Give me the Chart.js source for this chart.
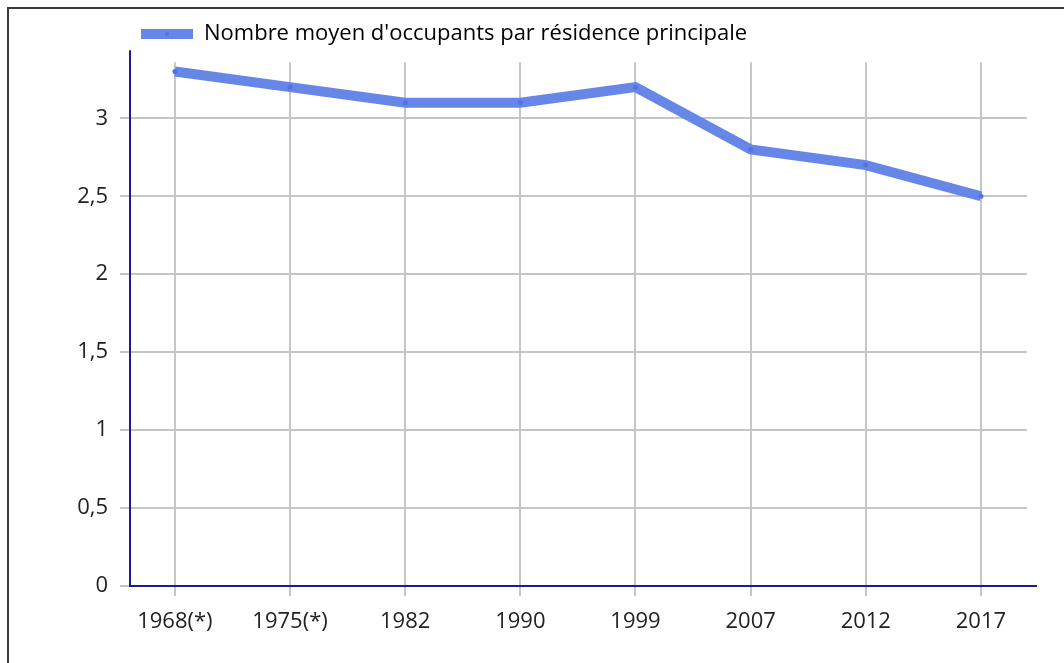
<!DOCTYPE html>
<html>
<head>
<meta charset="utf-8">
<script src="https://cdn.jsdelivr.net/npm/chart.js@4"></script>
<style>
  html, body { margin: 0; padding: 0; background: #fff; }
  #wrap { position: relative; width: 1064px; height: 663px; overflow: hidden; }
  #frame { position: absolute; left: 7px; top: 7px; width: 1100px; height: 700px;
           border-top: 2px solid #3a3a3a; border-left: 2px solid #3a3a3a; }
  #chartBox { position: absolute; left: 0; top: 0; width: 1064px; height: 663px; }
</style>
</head>
<body>
<div id="wrap">
  <div id="frame"></div>
  <div id="chartBox"><canvas id="occChart"></canvas></div>
</div>
<script>
// Data
const years = ['1968(*)', '1975(*)', '1982', '1990', '1999', '2007', '2012', '2017'];
const occupants = [3.3, 3.2, 3.1, 3.1, 3.2, 2.8, 2.7, 2.5];
const yTicks = [0, 0.5, 1, 1.5, 2, 2.5, 3];
const seriesLabel = "Nombre moyen d'occupants par résidence principale";

const lineColor = '#6787e8';
const axisColor = '#1b1b98';
const gridColor = '#c6c6c6';

// Navy axis lines stick out past the grid, draw them by hand
const axisLines = {
    id: 'axisLines',
    afterDraw(chart) {
        const ctx = chart.ctx;
        const area = chart.chartArea;
        ctx.save();
        ctx.strokeStyle = axisColor;
        ctx.lineWidth = 2;
        ctx.beginPath();
        ctx.moveTo(area.left, area.top - 12);
        ctx.lineTo(area.left, area.bottom);
        ctx.lineTo(area.right + 10, area.bottom);
        ctx.stroke();

        // little dot in the legend swatch
        const box = chart.legend.legendHitBoxes[0];
        if (box) {
            ctx.fillStyle = '#4f72e4';
            ctx.beginPath();
            ctx.arc(box.left + 26, box.top + box.height / 2, 2, 0, Math.PI * 2);
            ctx.fill();
        }
        ctx.restore();
    }
};

const ctx = document.getElementById('occChart').getContext('2d');
new Chart(ctx, {
    type: 'line',
    data: {
        datasets: [{
            label: seriesLabel,
            data: occupants.map((v, i) => ({ x: i, y: v })),
            borderColor: lineColor,
            backgroundColor: lineColor,
            borderWidth: 10,
            pointRadius: 2.5,
            pointBorderWidth: 0,
            pointBackgroundColor: '#4f72e4',
            tension: 0
        }]
    },
    options: {
        responsive: true,
        maintainAspectRatio: false,
        animation: false,
        layout: {
            padding: { left: 40, right: 37, top: 12, bottom: 0 }
        },
        plugins: {
            legend: {
                align: 'start',
                fullSize: false,
                weight: 3000,
                labels: {
                    font: { family: 'Open Sans', size: 22 },
                    color: '#222',
                    boxWidth: 52,
                    boxHeight: 10,
                    padding: 11,
                    generateLabels(chart) {
                        return [{
                            text: seriesLabel,
                            fillStyle: lineColor,
                            strokeStyle: lineColor,
                            lineWidth: 0,
                            datasetIndex: 0
                        }];
                    }
                }
            },
            // empty subtitle used as a spacer under the legend
            subtitle: {
                display: true,
                text: '',
                font: { size: 6 },
                padding: 0
            },
            tooltip: { enabled: false }
        },
        scales: {
            x: {
                type: 'linear',
                min: -0.39,
                max: 7.4,
                afterBuildTicks(scale) {
                    scale.ticks = years.map((y, i) => ({ value: i }));
                },
                afterFit(scale) {
                    scale.height = 77;
                },
                border: { display: false },
                grid: {
                    color: gridColor,
                    lineWidth: 2,
                    tickLength: 10
                },
                ticks: {
                    font: { family: 'Open Sans', size: 22 },
                    color: '#222',
                    padding: 13,
                    maxRotation: 0,
                    callback: v => years[v]
                }
            },
            y: {
                min: 0,
                max: 3.36,
                afterBuildTicks(scale) {
                    scale.ticks = yTicks.map(v => ({ value: v }));
                },
                afterFit(scale) {
                    scale.width = 90;
                },
                border: { display: false },
                grid: {
                    color: gridColor,
                    lineWidth: 2,
                    tickLength: 10
                },
                ticks: {
                    font: { family: 'Open Sans', size: 22 },
                    color: '#222',
                    padding: 12,
                    callback: v => String(v).replace('.', ',')
                }
            }
        }
    },
    plugins: [axisLines]
});
</script>
</body>
</html>
